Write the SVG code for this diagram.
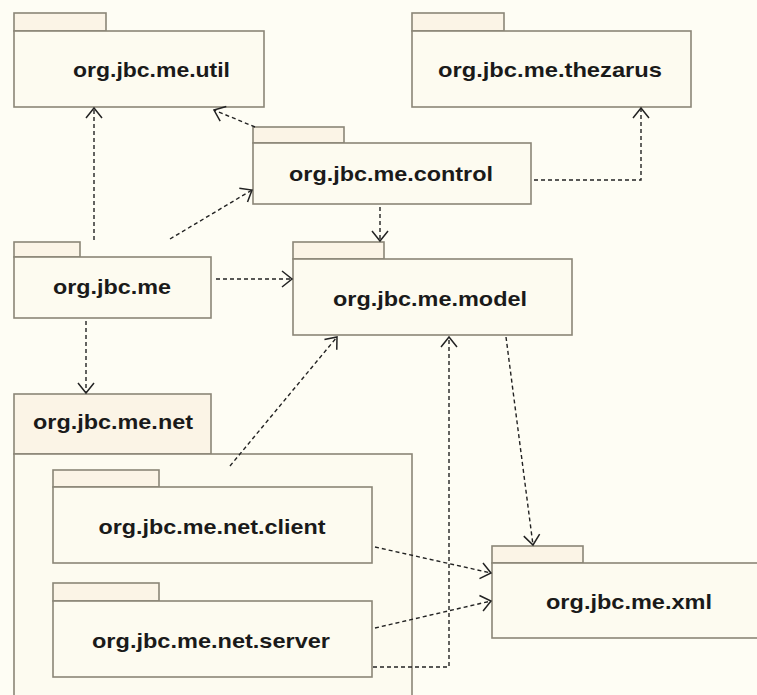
<svg xmlns="http://www.w3.org/2000/svg" width="757" height="695" viewBox="0 0 757 695">
<defs>
<marker id="arr" markerWidth="16" markerHeight="20" refX="12" refY="10" orient="auto" markerUnits="userSpaceOnUse">
<path d="M2,2 L12,10 L2,18" fill="none" stroke="#222" stroke-width="1.5"/>
</marker>
<style>
.tab{fill:#fbf4e6;stroke:#8b8677;stroke-width:1.6}
.body{fill:#fdfbf0;stroke:#8b8677;stroke-width:1.6}
.lbl{font-family:"Liberation Sans",Arial,sans-serif;font-weight:bold;font-size:21px;fill:#1a1a1a;text-anchor:middle}
.dep{fill:none;stroke:#222;stroke-width:1.4;stroke-dasharray:4 3;marker-end:url(#arr)}
</style>
</defs>
<rect width="757" height="695" fill="#fefdf4"/>
<g id="util">
<rect class="tab" x="14" y="13" width="92" height="18"/>
<rect class="body" x="14" y="31" width="250" height="76"/>
<text class="lbl" x="151.5" y="77" textLength="157" lengthAdjust="spacingAndGlyphs">org.jbc.me.util</text>
</g>
<g id="thezarus">
<rect class="tab" x="412" y="13" width="92" height="18"/>
<rect class="body" x="412" y="31" width="279" height="76"/>
<text class="lbl" x="550" y="77" textLength="224" lengthAdjust="spacingAndGlyphs">org.jbc.me.thezarus</text>
</g>
<g id="control">
<rect class="tab" x="253" y="127" width="91" height="16"/>
<rect class="body" x="253" y="143" width="278" height="61"/>
<text class="lbl" x="391" y="181" textLength="204" lengthAdjust="spacingAndGlyphs">org.jbc.me.control</text>
</g>
<g id="me">
<rect class="tab" x="14" y="242" width="66" height="15"/>
<rect class="body" x="14" y="257" width="197" height="61"/>
<text class="lbl" x="112" y="294" textLength="118" lengthAdjust="spacingAndGlyphs">org.jbc.me</text>
</g>
<g id="model">
<rect class="tab" x="293" y="242" width="91" height="17"/>
<rect class="body" x="293" y="259" width="279" height="76"/>
<text class="lbl" x="430" y="306" textLength="194" lengthAdjust="spacingAndGlyphs">org.jbc.me.model</text>
</g>
<g id="net">
<rect class="tab" x="14" y="394" width="197" height="60"/>
<rect class="body" x="14" y="454" width="398" height="250"/>
<text class="lbl" x="113" y="429" textLength="160" lengthAdjust="spacingAndGlyphs">org.jbc.me.net</text>
</g>
<g id="client">
<rect class="tab" x="53" y="470" width="106" height="17"/>
<rect class="body" x="53" y="487" width="319" height="76"/>
<text class="lbl" x="212" y="534" textLength="227" lengthAdjust="spacingAndGlyphs">org.jbc.me.net.client</text>
</g>
<g id="server">
<rect class="tab" x="53" y="583" width="106" height="18"/>
<rect class="body" x="53" y="601" width="319" height="76"/>
<text class="lbl" x="211" y="648" textLength="238" lengthAdjust="spacingAndGlyphs">org.jbc.me.net.server</text>
</g>
<g id="xml">
<rect class="tab" x="492" y="546" width="91" height="17"/>
<rect class="body" x="492" y="563" width="270" height="75"/>
<text class="lbl" x="629" y="609" textLength="166" lengthAdjust="spacingAndGlyphs">org.jbc.me.xml</text>
</g>
<g id="connectors">
<path class="dep" d="M94,240 V108"/>
<path class="dep" d="M170,239 L252,190"/>
<path class="dep" d="M255,127 L214,110"/>
<path class="dep" d="M534,180 H641 V108"/>
<path class="dep" d="M380,207 V241"/>
<path class="dep" d="M216,279 H292"/>
<path class="dep" d="M86,321 V393"/>
<path class="dep" d="M230,466 L337,337"/>
<path class="dep" d="M373,667 H449 V337"/>
<path class="dep" d="M506,337 L533,545"/>
<path class="dep" d="M375,547 L491,573"/>
<path class="dep" d="M375,628 L491,601"/>
</g>
</svg>
